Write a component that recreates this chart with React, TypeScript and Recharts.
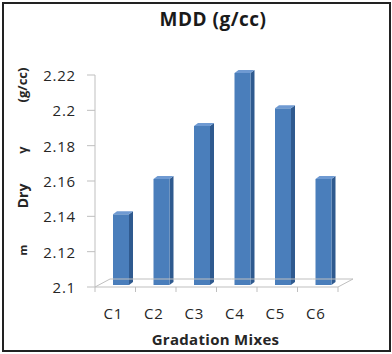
import React from 'react';
import { BarChart, Bar, XAxis, YAxis } from 'recharts';

const categories = ['C1', 'C2', 'C3', 'C4', 'C5', 'C6'];
const mddValues = [2.14, 2.16, 2.19, 2.22, 2.2, 2.16];
const yTicks = [2.1, 2.12, 2.14, 2.16, 2.18, 2.2, 2.22];

const data = categories.map((name, i) => ({ name, mdd: mddValues[i] }));

const FONT = '"Open Sans", sans-serif';
const LINE = '#bfbfbf';
const TEXT = '#262626';

// plot box
const M = { top: 75, right: 54, bottom: 27, left: 35 };
const Y_AXIS_W = 60;
const X_AXIS_H = 40;
const PLOT_W = 392 - M.left - Y_AXIS_W - M.right;
const BAND = PLOT_W / categories.length;

// fake 3d
const DX = 6;
const DY = -2;
const DEPTH_X = 4;
const DEPTH_Y = 3;
const FLOOR_X = 15;
const FLOOR_Y = 8;

const Bar3D = (props: any) => {
  const { x, y, width, height } = props;
  const fx = x + DX;
  const fy = y + DY;
  return (
    <g>
      <polygon
        points={`${fx + width},${fy} ${fx + width + DEPTH_X},${fy - DEPTH_Y} ${fx + width + DEPTH_X},${fy + height - DEPTH_Y} ${fx + width},${fy + height}`}
        fill="#2f5a8f"
      />
      <polygon
        points={`${fx},${fy} ${fx + DEPTH_X},${fy - DEPTH_Y} ${fx + width + DEPTH_X},${fy - DEPTH_Y} ${fx + width},${fy}`}
        fill="#6f9ad2"
      />
      <rect x={fx} y={fy} width={width} height={height} fill="#4a7ebb" />
    </g>
  );
};

const FloorTick = (props: any) => {
  const { x, y, payload, index } = props;
  const xl = x - BAND / 2;
  const xr = x + BAND / 2;
  const last = index === categories.length - 1;
  return (
    <g>
      <line x1={xl} y1={y} x2={xl} y2={y + 5} stroke={LINE} />
      {last && <line x1={xr} y1={y} x2={xr} y2={y + 5} stroke={LINE} />}
      <line x1={xl + FLOOR_X} y1={y - FLOOR_Y} x2={xr + FLOOR_X} y2={y - FLOOR_Y} stroke={LINE} />
      {index === 0 && <line x1={xl} y1={y} x2={xl + FLOOR_X} y2={y - FLOOR_Y} stroke={LINE} />}
      {last && <line x1={xr} y1={y} x2={xr + FLOOR_X} y2={y - FLOOR_Y} stroke={LINE} />}
      <text
        x={x - 2}
        y={y + 26}
        textAnchor="middle"
        dominantBaseline="central"
        fontSize={15}
        letterSpacing={0.8}
        fill={TEXT}
        fontFamily={FONT}
      >
        {payload.value}
      </text>
    </g>
  );
};

const YTick = (props: any) => {
  const { x, y, payload } = props;
  return (
    <text
      x={x + 1}
      y={y}
      textAnchor="end"
      dominantBaseline="central"
      fontSize={15}
      letterSpacing={0.8}
      fill={TEXT}
      fontFamily={FONT}
    >
      {payload.value}
    </text>
  );
};

const YTitle = (props: any) => {
  const { viewBox } = props;
  const cx = viewBox.x - 13;
  const top = viewBox.y;
  const parts = [
    { t: '(g/cc)', dy: 10, size: 13 },
    { t: 'γ', dy: 75, size: 13 },
    { t: 'Dry', dy: 121, size: 14 },
    { t: 'm', dy: 175, size: 11 },
  ];
  return (
    <g>
      {parts.map((p) => (
        <text
          key={p.t}
          x={cx}
          y={top + p.dy}
          transform={`rotate(-90 ${cx} ${top + p.dy})`}
          textAnchor="middle"
          dominantBaseline="central"
          fontSize={p.size}
          fontWeight="bold"
          fill={TEXT}
          fontFamily={FONT}
        >
          {p.t}
        </text>
      ))}
    </g>
  );
};

const XTitle = (props: any) => {
  const { viewBox } = props;
  return (
    <text
      x={viewBox.x + viewBox.width / 2 - 1}
      y={viewBox.y + 52}
      textAnchor="middle"
      dominantBaseline="central"
      fontSize={15}
      letterSpacing={0.3}
      fontWeight="bold"
      fill={TEXT}
      fontFamily={FONT}
    >
      Gradation Mixes
    </text>
  );
};

export default function App() {
  return (
    <div style={{ position: 'fixed', left: 0, top: 0, width: 392, height: 354, background: '#fff' }}>
      <div
        style={{
          position: 'absolute',
          left: 2,
          top: 2,
          width: 385,
          height: 346,
          border: '2px solid #222',
        }}
      />
      <div
        style={{
          position: 'absolute',
          left: 0,
          top: 7,
          width: 426,
          textAlign: 'center',
          fontFamily: FONT,
          fontWeight: 'bold',
          fontSize: 19,
          letterSpacing: 0.5,
          lineHeight: '24px',
          color: '#1a1a1a',
        }}
      >
        MDD (g/cc)
      </div>
      <BarChart width={392} height={354} data={data} margin={M} style={{ position: 'absolute', left: 0, top: 0 }}>
        <XAxis
          dataKey="name"
          height={X_AXIS_H}
          axisLine={{ stroke: LINE }}
          tickLine={false}
          tickSize={0}
          tickMargin={0}
          tick={<FloorTick />}
          interval={0}
          label={<XTitle />}
        />
        <YAxis
          width={Y_AXIS_W}
          domain={[2.1, 2.22]}
          ticks={yTicks}
          axisLine={{ stroke: LINE }}
          tickLine={{ stroke: LINE }}
          tickSize={8}
          tickMargin={12}
          tick={<YTick />}
          label={<YTitle />}
        />
        <Bar dataKey="mdd" barSize={16} shape={<Bar3D />} isAnimationActive={false} />
      </BarChart>
    </div>
  );
}
